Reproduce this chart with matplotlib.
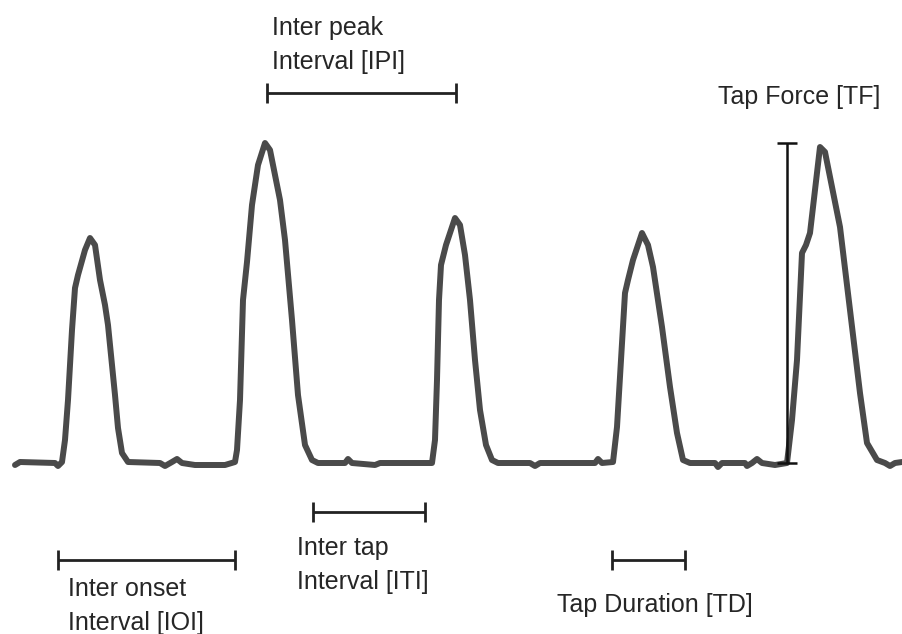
import matplotlib.pyplot as plt

# trazo de fuerza (tiempo en px, fuerza = altura sobre la linea base)
tiempo = [15, 20, 55, 58, 62, 65, 68, 72, 75, 78, 85, 90, 95, 100, 105, 108, 112, 115, 118, 122, 128,
          160, 165, 172, 177, 182, 195, 225, 235, 237, 240, 243, 247, 252, 258, 265, 270, 280, 285,
          292, 298, 305, 312, 318, 345, 348, 352, 375, 380, 432, 435, 437, 439, 441, 446, 455, 460,
          465, 470, 475, 480, 486, 492, 498, 530, 535, 540, 595, 598, 602, 613, 617, 621, 625, 628,
          633, 642, 648, 653, 662, 670, 677, 683, 690, 715, 718, 722, 745, 747, 752, 757, 762, 775,
          787, 792, 797, 802, 806, 810, 815, 820, 825, 830, 840, 850, 860, 867, 877, 885, 890, 895, 902]
y_pix = [465, 462, 463, 466, 462, 440, 400, 330, 288, 275, 250, 238, 245, 280, 305, 325, 365, 395, 428, 453, 462,
         463, 466, 462, 459, 463, 465, 465, 462, 450, 400, 300, 262, 205, 165, 143, 150, 200, 240,
         320, 395, 445, 460, 463, 463, 459, 463, 465, 463, 463, 440, 380, 300, 265, 245, 218, 225,
         255, 300, 360, 410, 445, 460, 463, 463, 466, 463, 463, 459, 463, 462, 427, 360, 293, 280,
         260, 233, 245, 267, 327, 387, 433, 460, 463, 463, 467, 463, 463, 466, 463, 459, 463, 465,
         463, 420, 360, 253, 245, 233, 190, 147, 152, 177, 227, 310, 393, 443, 460, 463, 466, 463, 462]
base = 463
fuerza = [base - v for v in y_pix]

# intervalos: (inicio, fin, altura)
intervalos = {
    'IPI': (267, 456, base - 93),
    'IOI': (58, 235, base - 560),
    'ITI': (313, 425, base - 512),
    'TD': (612, 685, base - 560),
}
tf_x = 787
tf_pico = base - 143

fig = plt.figure(figsize=(9.02, 6.34), dpi=100)
ax = fig.add_axes([0, 0, 1, 1])
ax.set_xlim(0, 902)
ax.set_ylim(base - 634, base)
ax.axis('off')

ax.plot(tiempo, fuerza, color='#4a4a4a', lw=4.3, solid_joinstyle='round', solid_capstyle='round')

for nombre, (x0, x1, h) in intervalos.items():
    ax.errorbar((x0 + x1) / 2, h, xerr=(x1 - x0) / 2, fmt='none', ecolor='#222222',
                elinewidth=2, capsize=7, capthick=2)

ax.errorbar(tf_x, tf_pico / 2, yerr=tf_pico / 2, fmt='none', ecolor='#111111',
            elinewidth=1.8, capsize=7, capthick=1.8)

fuente = dict(family='Liberation Sans', fontsize=18, color='#262626', linespacing=1.5)
ax.text(272, base - 45, 'Inter peak\nInterval [IPI]', ha='left', va='center', **fuente)
ax.text(880, base - 97, 'Tap Force [TF]', ha='right', va='center', **fuente)
ax.text(68, base - 606, 'Inter onset\nInterval [IOI]', ha='left', va='center', **fuente)
ax.text(297, base - 565, 'Inter tap\nInterval [ITI]', ha='left', va='center', **fuente)
ax.text(655, base - 605, 'Tap Duration [TD]', ha='center', va='center', **fuente)

fig.savefig('out.png', dpi=100)
